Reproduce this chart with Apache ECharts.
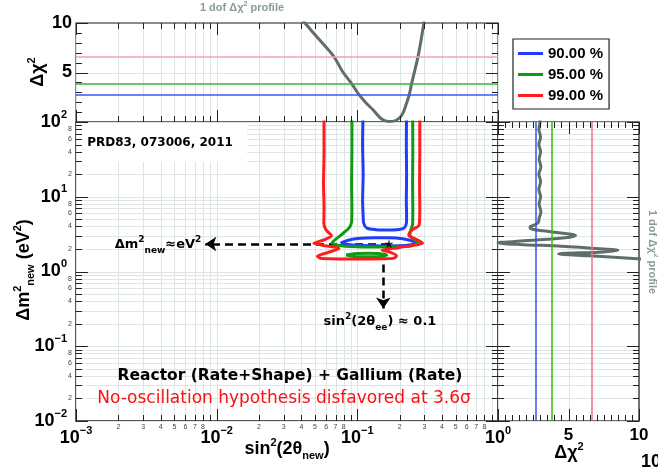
<!DOCTYPE html>
<html>
<head>
<meta charset="utf-8">
<script src="https://cdn.jsdelivr.net/npm/echarts@6/dist/echarts.min.js"></script>
<style>
  html, body { margin: 0; padding: 0; background: #fff; }
  #chart { width: 658px; height: 474px; }
</style>
</head>
<body>
<div id="chart"></div>
<script>
// ---------------- data ----------------
const sinRange = [0.001, 1];          // sin²(2θ_new)
const dm2Range = [0.01, 100];         // Δm²_new [eV²]
const chi2Range = [0, 10];            // Δχ²

// confidence levels and their 1-dof Δχ² thresholds
const clNames = ['90.00 %', '95.00 %', '99.00 %'];
const clChi2 = [2.71, 3.84, 6.63];

// 1-dof profile as a function of sin²(2θ)
const profSin  = [0.0391, 0.0424, 0.0530, 0.0674, 0.0785, 0.0911, 0.1031, 0.115, 0.1297, 0.1489, 0.1677, 0.188, 0.2075, 0.224, 0.2338, 0.2431, 0.2709, 0.2974, 0.302];
const profSinChi2 = [10.6, 10.0, 8.4, 6.70, 5.1, 3.87, 2.73, 1.95, 1.21, 0.30, 0.05, 0.15, 0.70, 1.92, 2.73, 3.87, 6.70, 10.0, 10.6];

// 1-dof profile as a function of Δm²
const profDm2 = [150, 100, 80, 63, 50, 40, 32, 25, 20, 16, 12.5, 10, 8, 6.3, 5.2, 4.5, 4.15, 3.95, 3.7, 3.5, 3.25, 3.05, 2.9, 2.7, 2.52, 2.42, 2.3, 2.18, 2.0, 1.92, 1.83, 1.72, 1.62, 1.46, 1.38];
const profDm2Chi2 = [2.95, 2.98, 2.9, 3.02, 2.9, 3.02, 2.92, 3.04, 2.9, 3.02, 2.9, 3.02, 2.92, 3.04, 2.92, 2.85, 2.5, 2.27, 2.4, 3.2, 4.6, 5.5, 5.2, 3.5, 1.2, 0.0, 1.5, 4.5, 7.5, 8.5, 7.5, 4.3, 6.5, 10.5, 13.0];

// allowed-region contours [sin²(2θ), Δm²]
const c90Upper = [[0.110, 150], [0.109, 50], [0.110, 20], [0.109, 9], [0.110, 5.5], [0.111, 4.4], [0.117, 3.8], [0.135, 3.63], [0.160, 3.6], [0.190, 3.63], [0.214, 3.8], [0.223, 4.4], [0.224, 5.5], [0.223, 9], [0.224, 20], [0.223, 50], [0.224, 150]];
const c90Lens = [[0.076, 2.38], [0.085, 2.6], [0.10, 2.76], [0.13, 2.83], [0.17, 2.83], [0.21, 2.75], [0.24, 2.6], [0.262, 2.42], [0.24, 2.28], [0.20, 2.21], [0.15, 2.2], [0.11, 2.22], [0.088, 2.28], [0.076, 2.38]];
const c95Main = [[0.0915, 150], [0.0915, 40], [0.091, 15], [0.0915, 7], [0.091, 4.6], [0.088, 3.9], [0.080, 3.3], [0.071, 2.75], [0.066, 2.42], [0.072, 2.25], [0.10, 2.14], [0.15, 2.12], [0.21, 2.15], [0.25, 2.25], [0.268, 2.4], [0.255, 2.65], [0.236, 3.1], [0.240, 3.6], [0.247, 4.3], [0.248, 7], [0.247, 15], [0.248, 40], [0.247, 150]];
const c95Island = [[0.083, 1.66], [0.095, 1.73], [0.12, 1.75], [0.145, 1.73], [0.162, 1.66], [0.145, 1.59], [0.12, 1.57], [0.095, 1.59], [0.083, 1.66]];
const c99Main = [[0.0579, 150], [0.058, 40], [0.0575, 15], [0.058, 7], [0.0578, 4.4], [0.060, 3.6], [0.0655, 3.0], [0.058, 2.65], [0.049, 2.38], [0.060, 2.2], [0.074, 2.03], [0.062, 1.8], [0.052, 1.6], [0.056, 1.49], [0.10, 1.47], [0.15, 1.48], [0.183, 1.51], [0.19, 1.63], [0.170, 1.82], [0.150, 1.92], [0.20, 2.1], [0.291, 2.41], [0.255, 2.75], [0.232, 3.05], [0.245, 3.6], [0.2754, 4.2], [0.278, 7], [0.277, 15], [0.278, 40], [0.278, 150]];

// best fit and guide arrows
const bestFit = [0.168, 2.35];
const guideH = [[0.168, 2.33], [0.0083, 2.33]];
const guideV = [[0.153, 1.24], [0.153, 0.32]];

// tick mantissas and the ones that carry small labels
const mantissas = [1, 2, 3, 4, 5, 6, 7, 8, 9];
const xMinorLabelled = [2, 3, 4, 5, 6, 7, 8];
const yMinorLabelled = [2, 4, 6, 8];

// ---------------- styling ----------------
const FONT = '"Liberation Sans", Arial, sans-serif';
const HAND = '"DejaVu Sans", sans-serif';
const GRID_COLOR = '#dde5e5';
const TICK_COLOR = '#222';
const clColors = ['#1f3cff', '#0e9a12', '#ff1c1c'];
const topLineColors = ['#3a58f0', '#3fae3f', '#f2a2ab'];
const sideLineColors = ['#3355ee', '#33bb11', '#ee7088'];
const PROFILE_COLOR = '#5f6e6b';

// ---------------- helpers ----------------
function logTicks(e0, e1, labelled) {
  const out = [];
  for (let e = e0; e < e1; e++) {
    for (const m of mantissas) {
      out.push({ v: +(m * Math.pow(10, e)).toPrecision(6), major: m === 1, label: labelled.includes(m) ? String(m) : '' });
    }
  }
  out.push({ v: Math.pow(10, e1), major: true, label: '' });
  return out;
}
function linTicks(lo, hi, step, majorStep) {
  const out = [];
  for (let v = lo; v <= hi + 1e-9; v += step) {
    const r = +v.toFixed(6);
    out.push({ v: r, major: Math.abs(r / majorStep - Math.round(r / majorStep)) < 1e-6, label: '' });
  }
  return out;
}

// gridlines (mode 'grid') or edge ticks / small labels (mode 'tick') drawn through the axis scales
function axisDecor(gi, dir, ticks, ref, cfg, mode) {
  return {
    type: 'custom', xAxisIndex: gi, yAxisIndex: gi, silent: true, clip: false,
    z: mode === 'grid' ? 0 : 6,
    data: ticks.map(d => dir === 'x' ? [d.v, ref] : [ref, d.v]),
    renderItem(params, api) {
      const cs = params.coordSys;
      const d = ticks[params.dataIndex];
      const p = api.coord([api.value(0), api.value(1)]);
      const ch = [];
      const len = d.major ? 12 : 6;
      const L = (x1, y1, x2, y2, stroke, w) => ch.push({ type: 'line', shape: { x1, y1, x2, y2 }, style: { stroke, lineWidth: w } });
      if (dir === 'x') {
        const x = Math.round(p[0]) + 0.5;
        const yt = cs.y, yb = cs.y + cs.height;
        if (mode === 'grid') {
          if (cfg.grid(d)) L(x, yt, x, yb, GRID_COLOR, 1);
        } else {
          if (cfg.bottom) L(x, yb, x, yb - len, TICK_COLOR, 1);
          if (cfg.top) L(x, yt, x, yt + len, TICK_COLOR, 1);
          if (cfg.labels && d.label) ch.push({ type: 'text', x: p[0], y: yb + 6, style: { text: d.label, fontSize: 7, fontFamily: FONT, fill: '#444', align: 'center', verticalAlign: 'middle' } });
        }
      } else {
        const y = Math.round(p[1]) + 0.5;
        const xl = cs.x, xr = cs.x + cs.width;
        if (mode === 'grid') {
          if (cfg.grid(d)) L(xl, y, xr, y, GRID_COLOR, 1);
        } else {
          if (cfg.left) L(xl, y, xl + len, y, TICK_COLOR, 1);
          if (cfg.right) L(xr, y, xr - len, y, TICK_COLOR, 1);
          if (cfg.labels && d.label) ch.push({ type: 'text', x: xl - 6, y: p[1], style: { text: d.label, fontSize: 7, fontFamily: FONT, fill: '#444', align: 'center', verticalAlign: 'middle' } });
        }
      }
      return { type: 'group', children: ch };
    }
  };
}
function decor(gi, dir, ticks, ref, cfg) {
  return [axisDecor(gi, dir, ticks, ref, cfg, 'grid'), axisDecor(gi, dir, ticks, ref, cfg, 'tick')];
}

const supRich = {
  b: { fontSize: 18, fontWeight: 'bold', fontFamily: FONT, color: '#000', lineHeight: 26 },
  s: { fontSize: 11, fontWeight: 'bold', fontFamily: FONT, color: '#000', verticalAlign: 'top', lineHeight: 11 }
};
const powLabel = v => '{b|10}{s|' + String(Math.round(Math.log10(v))).replace('-', '\u2212') + '}';

const xTicks = logTicks(-3, 0, xMinorLabelled);
const xTicksTop = logTicks(-3, 0, []);
const yTicks = logTicks(-2, 2, yMinorLabelled);
const yTicksSide = logTicks(-2, 2, []);
const chiTicksY = linTicks(0, 10, 1, 5);
const chiTicksX = linTicks(0, 10, 0.5, 5);

const all = () => true;
const onlyFive = d => d.v === 5;

const series = [
  // main panel frame decorations
  ...decor(0, 'x', xTicks, 1, { grid: all, bottom: true, labels: true }),
  ...decor(0, 'y', yTicks, 0.01, { grid: all, left: true, right: true, labels: true }),
  // top panel
  ...decor(1, 'x', xTicksTop, 5, { grid: all, bottom: true, top: true }),
  ...decor(1, 'y', chiTicksY, 0.01, { grid: onlyFive, left: true, right: true }),
  // side panel
  ...decor(2, 'x', chiTicksX, 1, { grid: onlyFive, bottom: true, top: true }),
  ...decor(2, 'y', yTicksSide, 5, { grid: all, left: true, right: true }),
  {
    name: 'profile-sin', type: 'line', xAxisIndex: 1, yAxisIndex: 1, z: 4,
    data: profSin.map((s, i) => [s, profSinChi2[i]]),
    smooth: 0.35, showSymbol: false, symbol: 'none', clip: true,
    lineStyle: { color: PROFILE_COLOR, width: 3 },
    markLine: {
      silent: true, symbol: 'none', label: { show: false },
      data: clChi2.map((c, i) => ({ yAxis: c, lineStyle: { color: topLineColors[i], width: 1.5, type: 'solid' } }))
    }
  },
  {
    name: 'profile-dm2', type: 'line', xAxisIndex: 2, yAxisIndex: 2, z: 4,
    data: profDm2.map((m, i) => [profDm2Chi2[i], m]),
    smooth: 0.35, showSymbol: false, symbol: 'none', clip: true,
    lineStyle: { color: PROFILE_COLOR, width: 3 },
    markLine: {
      silent: true, symbol: 'none', label: { show: false },
      data: clChi2.map((c, i) => ({ xAxis: c, lineStyle: { color: sideLineColors[i], width: 1.5, type: 'solid' } }))
    }
  }
];

const contourParts = [
  [0, c90Upper], [0, c90Lens],
  [1, c95Main], [1, c95Island],
  [2, c99Main]
];
contourParts.forEach(([k, pts]) => {
  series.push({
    name: clNames[k], type: 'line', xAxisIndex: 0, yAxisIndex: 0, z: 5,
    data: pts, smooth: 0.25, symbol: 'none', showSymbol: false, clip: true,
    color: clColors[k],
    itemStyle: { color: clColors[k] },
    lineStyle: { color: clColors[k], width: 3 }
  });
});

series.push({
  name: 'best fit', type: 'scatter', xAxisIndex: 0, yAxisIndex: 0, z: 8,
  data: [bestFit],
  symbol: 'path://M50,0 L61,35 L98,35 L68,57 L79,91 L50,70 L21,91 L32,57 L2,35 L39,35 Z',
  symbolSize: 9, itemStyle: { color: '#000' },
  markLine: {
    silent: true, symbol: ['none', 'arrow'], symbolSize: 11,
    label: { show: false },
    lineStyle: { color: '#000', width: 2.5, type: [8, 5] },
    data: [
      [{ coord: guideH[0] }, { coord: guideH[1] }],
      [{ coord: guideV[0] }, { coord: guideV[1] }]
    ]
  }
});

const txt = (x, y, text, extra, rot) => ({
  type: 'text', x, y, rotation: rot || 0, z: 10,
  style: Object.assign({ text, fill: '#000', fontFamily: FONT, fontWeight: 'bold', fontSize: 17, align: 'center', verticalAlign: 'middle' }, extra)
});
const rich = {
  b: { fontSize: 18, fontWeight: 'bold', fontFamily: FONT, lineHeight: 24 },
  sup: { fontSize: 11, fontWeight: 'bold', fontFamily: FONT, verticalAlign: 'top', lineHeight: 12 },
  sub: { fontSize: 11, fontWeight: 'bold', fontFamily: FONT, verticalAlign: 'bottom', lineHeight: 12 },
  hb: { fontSize: 13, fontWeight: 'bold', fontFamily: HAND, lineHeight: 20 },
  hsup: { fontSize: 9, fontWeight: 'bold', fontFamily: HAND, verticalAlign: 'top', lineHeight: 10 },
  hsub: { fontSize: 9, fontWeight: 'bold', fontFamily: HAND, verticalAlign: 'bottom', lineHeight: 10 },
  gb: { fontSize: 11, fontWeight: 'bold', fontFamily: FONT, fill: '#8a9999', lineHeight: 14 },
  gsup: { fontSize: 7, fontWeight: 'bold', fontFamily: FONT, fill: '#8a9999', verticalAlign: 'top', lineHeight: 7 }
};

const option = {
  animation: false,
  backgroundColor: '#fff',
  grid: [
    { left: 76, top: 122, width: 422, height: 299, show: true, borderColor: '#222', borderWidth: 1.5, backgroundColor: 'transparent' },
    { left: 76, top: 23, width: 422, height: 99, show: true, borderColor: '#666', borderWidth: 1.5, backgroundColor: 'transparent' },
    { left: 498, top: 122, width: 141, height: 299, show: true, borderColor: '#444', borderWidth: 1.5, backgroundColor: 'transparent' }
  ],
  xAxis: [
    { gridIndex: 0, type: 'log', logBase: 10, min: sinRange[0], max: sinRange[1],
      axisLine: { show: false }, axisTick: { show: false }, splitLine: { show: false },
      axisLabel: { formatter: powLabel, rich: supRich, margin: 4, showMinLabel: true, showMaxLabel: true } },
    { gridIndex: 1, type: 'log', logBase: 10, min: sinRange[0], max: sinRange[1],
      axisLine: { show: false }, axisTick: { show: false }, splitLine: { show: false }, axisLabel: { show: false } },
    { gridIndex: 2, type: 'value', min: chi2Range[0], max: chi2Range[1], interval: 5,
      axisLine: { show: false }, axisTick: { show: false }, splitLine: { show: false },
      axisLabel: { formatter: v => (v === 0 ? '' : String(v)), fontSize: 17, fontWeight: 'bold', fontFamily: FONT, color: '#000', margin: 6, showMaxLabel: true } }
  ],
  yAxis: [
    { gridIndex: 0, type: 'log', logBase: 10, min: dm2Range[0], max: dm2Range[1],
      axisLine: { show: false }, axisTick: { show: false }, splitLine: { show: false },
      axisLabel: { formatter: powLabel, rich: supRich, margin: 9, showMinLabel: true, showMaxLabel: true } },
    { gridIndex: 1, type: 'value', min: chi2Range[0], max: chi2Range[1], interval: 5,
      axisLine: { show: false }, axisTick: { show: false }, splitLine: { show: false },
      axisLabel: { formatter: v => (v === 0 ? '' : String(v)), fontSize: 18, fontWeight: 'bold', fontFamily: FONT, color: '#000', margin: 4, showMaxLabel: true } },
    { gridIndex: 2, type: 'log', logBase: 10, min: dm2Range[0], max: dm2Range[1],
      axisLine: { show: false }, axisTick: { show: false }, splitLine: { show: false }, axisLabel: { show: false } }
  ],
  legend: {
    data: clNames, orient: 'vertical', left: 513, top: 39,
    itemWidth: 25, itemHeight: 3, itemGap: 6, icon: 'rect',
    padding: [7, 6, 6, 5], borderColor: '#222', borderWidth: 1.2, backgroundColor: '#fff',
    textStyle: { fontSize: 15, fontWeight: 'bold', fontFamily: FONT, color: '#000' }
  },
  graphic: [
    { type: 'rect', z: 1, shape: { x: 77, y: 123, width: 170, height: 39 }, style: { fill: '#fff' } },
    txt(160, 142.5, 'PRD83, 073006, 2011', { fontFamily: HAND, fontSize: 12 }),
    txt(242, 8, '{gb|1 dof Δχ}{gsup|2}{gb| profile}', { rich }),
    txt(652, 252, '{gb|1 dof Δχ}{gsup|2}{gb| profile}', { rich }, -Math.PI / 2),
    txt(38, 72, '{b|Δχ}{sup|2}', { rich }, Math.PI / 2),
    txt(24, 270, '{b|Δm}{sup|2}{sub|new}{b| (eV}{sup|2}{b|)}', { rich }, Math.PI / 2),
    txt(287, 449, '{b|sin}{sup|2}{b|(2θ}{sub|new}{b|)}', { rich }),
    txt(569, 453, '{b|Δχ}{sup|2}', { rich }),
    txt(651, 462, '10', { fontSize: 18 }),
    txt(158, 245, '{hb|Δm}{hsup|2}{hsub|new}{hb|≈eV}{hsup|2}', { rich }),
    txt(380, 322, '{hb|sin}{hsup|2}{hb|(2θ}{hsub|ee}{hb|) ≈ 0.1}', { rich }),
    txt(290, 376, 'Reactor (Rate+Shape) + Gallium (Rate)', { fontFamily: HAND, fontSize: 15.5 }),
    txt(284, 399, 'No-oscillation hypothesis disfavored at 3.6σ', { fontFamily: HAND, fontSize: 17, fontWeight: 'normal', fill: '#ff1010' })
  ],
  series
};

const chart = echarts.init(document.getElementById('chart'), null, { renderer: 'canvas' });
chart.setOption(option);
</script>
</body>
</html>
